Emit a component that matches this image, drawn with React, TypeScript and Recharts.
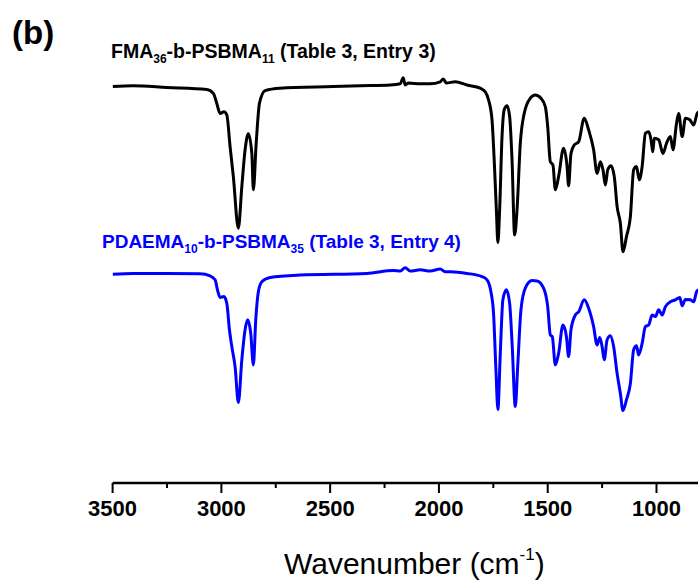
import React from 'react';
import { LineChart, Line, XAxis, YAxis } from 'recharts';

// FTIR spectra (wavenumber in cm-1, transmittance in arbitrary offset units)
const fmaWavenumber = [3500, 3406, 3251, 3067, 3037, 3021, 3006, 2988, 2975, 2960, 2945, 2922, 2906, 2891, 2876, 2860, 2853, 2840, 2825, 2799, 2730, 2486, 2362, 2224, 2178, 2164, 2155, 2141, 2086, 2040, 1994, 1980, 1966, 1925, 1871, 1810, 1787, 1772, 1756, 1746, 1736, 1729, 1721, 1710, 1700, 1687, 1675, 1664, 1652, 1641, 1626, 1608, 1580, 1557, 1531, 1511, 1500, 1488, 1476, 1465, 1450, 1427, 1411, 1404, 1393, 1378, 1358, 1332, 1312, 1289, 1273, 1258, 1246, 1235, 1224, 1209, 1194, 1181, 1166, 1154, 1138, 1120, 1105, 1092, 1079, 1066, 1051, 1036, 1025, 1017, 1010, 990, 970, 954, 936, 924, 908, 898, 882, 867, 847, 829, 813, 807];
const fmaTransmittance = [99.1, 99.3, 98.9, 98.4, 97.4, 94.9, 92.4, 92.8, 92.0, 84.1, 76.6, 63.7, 74.1, 83.3, 87.3, 82.4, 73.3, 84.9, 94.9, 98.1, 98.7, 99.1, 99.3, 99.5, 99.8, 101.3, 99.5, 100, 99.8, 99.8, 100.3, 101, 100, 100.3, 99.5, 98.7, 97.8, 95.8, 90.8, 80.8, 68.3, 60.1, 68.3, 86.6, 93.3, 94.3, 91.6, 80.8, 62, 68.3, 84.9, 92.4, 96.2, 97, 96.2, 94.1, 89.1, 80.3, 79.5, 73.3, 76.6, 83.7, 79.1, 74.3, 82.4, 84.5, 85.3, 91.2, 88.3, 83.3, 77.4, 80.3, 78.3, 74.5, 78.3, 79.3, 76.6, 69.1, 64.9, 57.8, 61.6, 66.6, 78.3, 79.1, 75.8, 79.1, 87.4, 87.8, 85.8, 82.8, 86.2, 85.8, 82.4, 84.9, 86.6, 83.3, 89.9, 92.4, 86.6, 91.2, 90.8, 89.5, 92.4, 92.8];

const pdaemaWavenumber = [3500, 3405, 3251, 3098, 3052, 3029, 3018, 3006, 2988, 2975, 2963, 2952, 2937, 2922, 2906, 2891, 2879, 2865, 2853, 2842, 2830, 2814, 2776, 2638, 2331, 2209, 2178, 2155, 2132, 2086, 2040, 1994, 1971, 1948, 1871, 1802, 1779, 1761, 1749, 1738, 1729, 1718, 1706, 1690, 1675, 1663, 1649, 1638, 1623, 1603, 1572, 1549, 1519, 1500, 1488, 1479, 1465, 1450, 1430, 1414, 1404, 1393, 1373, 1358, 1332, 1312, 1289, 1273, 1261, 1250, 1240, 1227, 1212, 1197, 1181, 1166, 1154, 1138, 1120, 1105, 1092, 1082, 1066, 1051, 1036, 1020, 1005, 990, 974, 959, 936, 913, 893, 882, 867, 844, 829, 816, 807];
const pdaemaTransmittance = [52.2, 52.4, 52.4, 52.3, 51.8, 50.8, 48.3, 46.4, 46.6, 44.9, 38.3, 34.1, 29.1, 20.1, 30.8, 38.3, 40.8, 37.4, 29.5, 40.8, 47.8, 50.3, 51.4, 52, 52.4, 53.1, 53, 53.8, 53, 53.3, 53, 53.5, 52.8, 52.8, 52.4, 51.6, 50.8, 47.8, 42.4, 28.3, 18.4, 32.4, 45.8, 48.3, 44.9, 34.1, 19.1, 29.1, 43.3, 48.7, 50.6, 50.5, 48.7, 44.1, 37, 36.6, 29.5, 32.4, 39.5, 36.6, 31.6, 38.3, 42, 42.8, 45.8, 43.7, 39.1, 34.5, 36.4, 34.1, 30.8, 35.8, 36.8, 34.1, 27.4, 22.4, 18.1, 20.8, 24.9, 33.3, 34.3, 32, 34.9, 39.1, 39.5, 42, 41.6, 43.3, 42, 44.1, 45.3, 45.8, 46.4, 44.3, 45.9, 45.8, 45.3, 47.8, 48.3];

const xTicks = [3500, 3250, 3000, 2750, 2500, 2250, 2000, 1750, 1500, 1250, 1000];

const fmaData = fmaWavenumber.map((wn, i) => ({ wn, t: fmaTransmittance[i] }));
const pdaemaData = pdaemaWavenumber.map((wn, i) => ({ wn, t: pdaemaTransmittance[i] }));

const FONT = '"Liberation Sans", Arial, sans-serif';

const WaveTick = (props: any) => {
  const { x, y, payload } = props;
  const major = payload.value % 500 === 0;
  return (
    <g>
      <line x1={x} x2={x} y1={y} y2={y + (major ? 10 : 5)} stroke="#000" strokeWidth={2} />
      {major && (
        <text x={x} y={y + 33} textAnchor="middle" fontSize={22} fontWeight="bold" fontFamily={FONT} fill="#000">
          {payload.value}
        </text>
      )}
    </g>
  );
};

const label: React.CSSProperties = {
  position: 'absolute',
  fontFamily: FONT,
  fontWeight: 'bold',
  whiteSpace: 'nowrap',
  lineHeight: 1,
};

const sub: React.CSSProperties = { fontSize: 12, verticalAlign: -5 };

export default function App() {
  return (
    <div style={{ position: 'relative', width: 698, height: 580, overflow: 'hidden', background: '#fff' }}>
      <style>{'body{margin:0;overflow:hidden}'}</style>
      <LineChart width={700} height={580} margin={{ top: 43, right: 0, bottom: 0, left: 112.6 }}>
        <XAxis
          type="number"
          dataKey="wn"
          domain={[800, 3500]}
          reversed
          ticks={xTicks}
          interval={0}
          tickSize={0}
          tickMargin={0}
          tick={<WaveTick />}
          height={97}
          axisLine={{ stroke: '#000', strokeWidth: 2.5 }}
          allowDataOverflow
        />
        <YAxis hide domain={[0, 110]} />
        <Line data={fmaData} dataKey="t" stroke="#000" strokeWidth={3} dot={false} type="monotoneX" isAnimationActive={false} />
        <Line data={pdaemaData} dataKey="t" stroke="#0000ff" strokeWidth={3} dot={false} type="monotoneX" isAnimationActive={false} />
      </LineChart>

      <div style={{ ...label, left: 12, top: 16, fontSize: 33 }}>(b)</div>
      <div style={{ ...label, left: 111, top: 42, fontSize: 19.5, color: '#000' }}>
        FMA<span style={sub}>36</span>-b-PSBMA<span style={sub}>11</span> (Table 3, Entry 3)
      </div>
      <div style={{ ...label, left: 102, top: 232, fontSize: 19, color: '#0000ff' }}>
        PDAEMA<span style={sub}>10</span>-b-PSBMA<span style={sub}>35</span> (Table 3, Entry 4)
      </div>
      <div style={{ ...label, left: 284, top: 546, fontSize: 30, fontWeight: 'normal' }}>
        Wavenumber (cm<span style={{ fontSize: 17, verticalAlign: 14 }}>-1</span>)
      </div>
    </div>
  );
}
